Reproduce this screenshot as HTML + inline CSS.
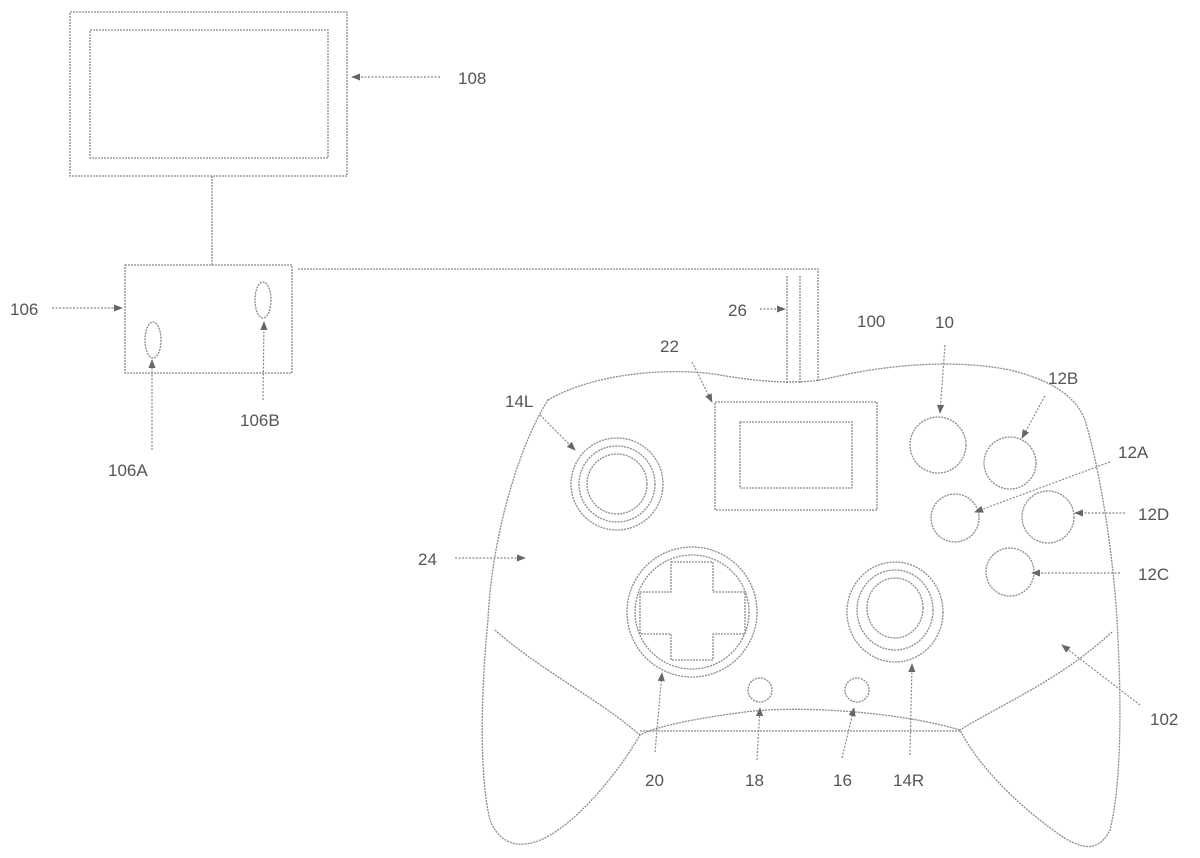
<!DOCTYPE html>
<html><head><meta charset="utf-8"><style>
html,body{margin:0;padding:0;background:#fff}
svg{display:block}
text{font-family:"Liberation Sans",sans-serif;font-size:17px;fill:#555}
.l{fill:none;stroke:#8a8a8a;stroke-width:1.3;stroke-dasharray:2 1}
.a{fill:none;stroke:#8a8a8a;stroke-width:1.2;stroke-dasharray:2 1.5}
</style></head><body>
<svg width="1200" height="858" viewBox="0 0 1200 858" xmlns="http://www.w3.org/2000/svg">
<defs><marker id="m" viewBox="0 0 10 10" refX="9" refY="5" markerWidth="9" markerHeight="9" orient="auto" markerUnits="userSpaceOnUse"><path d="M0,1 L10,5 L0,9 z" fill="#666"/></marker></defs>
<rect class="l" x="70" y="12" width="277" height="164"/>
<rect class="l" x="90" y="30" width="238" height="128"/>
<line class="l" x1="212" y1="176" x2="212" y2="265"/>
<rect class="l" x="125" y="265" width="167" height="108"/>
<ellipse class="l" cx="153" cy="340" rx="8" ry="18"/>
<ellipse class="l" cx="263" cy="300" rx="8" ry="18"/>
<polyline class="l" points="298,269 818,269 818,382"/>
<line class="l" x1="787" y1="276" x2="787" y2="384"/>
<line class="l" x1="800" y1="276" x2="800" y2="383"/>
<path class="l" d="M548,400 C600,370 680,368 720,375 C760,382 800,385 830,378 C880,366 950,358 1010,370 C1050,380 1075,395 1085,420 C1100,470 1115,560 1118,640 C1122,720 1120,790 1110,830 C1100,850 1085,852 1060,835 C1010,800 975,760 960,730 C900,712 800,705 745,712 C700,718 660,725 640,735 C620,770 580,820 545,838 C520,850 500,845 490,820 C480,780 480,700 488,620 C492,530 522,440 548,400 Z"/>
<line class="l" x1="640" y1="731" x2="960" y2="731"/>
<path class="l" d="M495,630 C540,670 600,700 640,735"/>
<path class="l" d="M1112,632 C1060,680 1000,705 960,730"/>
<rect class="l" x="715" y="402" width="162" height="108"/>
<rect class="l" x="740" y="422" width="112" height="66"/>
<circle class="l" cx="617" cy="484" r="46"/>
<circle class="l" cx="617" cy="484" r="38"/>
<circle class="l" cx="617" cy="484" r="30"/>
<circle class="l" cx="692" cy="612" r="65"/>
<circle class="l" cx="692" cy="612" r="57"/>
<path class="l" d="M671,562 H713 V592 H745 V634 H713 V660 H671 V634 H640 V592 H671 Z"/>
<ellipse class="l" cx="895" cy="612" rx="48" ry="50"/>
<ellipse class="l" cx="895" cy="610" rx="38" ry="40"/>
<ellipse class="l" cx="895" cy="608" rx="28" ry="30"/>
<circle class="l" cx="938" cy="445" r="28"/>
<circle class="l" cx="1010" cy="463" r="26"/>
<circle class="l" cx="955" cy="518" r="24"/>
<circle class="l" cx="1048" cy="517" r="26"/>
<circle class="l" cx="1010" cy="572" r="24"/>
<circle class="l" cx="760" cy="690" r="12"/>
<circle class="l" cx="857" cy="690" r="12"/>
<g marker-end="url(#m)">
<line class="a" x1="440" y1="77" x2="352" y2="77"/>
<line class="a" x1="52" y1="308" x2="122" y2="308"/>
<line class="a" x1="152" y1="450" x2="152" y2="360"/>
<line class="a" x1="263" y1="400" x2="264" y2="322"/>
<line class="a" x1="760" y1="309" x2="785" y2="309"/>
<line class="a" x1="692" y1="362" x2="712" y2="402"/>
<line class="a" x1="540" y1="415" x2="575" y2="450"/>
<line class="a" x1="945" y1="345" x2="940" y2="413"/>
<line class="a" x1="1045" y1="396" x2="1022" y2="438"/>
<line class="a" x1="1110" y1="462" x2="975" y2="512"/>
<line class="a" x1="1125" y1="513" x2="1075" y2="513"/>
<line class="a" x1="1120" y1="573" x2="1032" y2="573"/>
<line class="a" x1="1140" y1="705" x2="1062" y2="645"/>
<line class="a" x1="455" y1="558" x2="525" y2="558"/>
<line class="a" x1="655" y1="752" x2="662" y2="673"/>
<line class="a" x1="757" y1="760" x2="760" y2="708"/>
<line class="a" x1="842" y1="758" x2="854" y2="708"/>
<line class="a" x1="910" y1="755" x2="912" y2="664"/>
</g>
<text x="458" y="84">108</text>
<text x="10" y="315">106</text>
<text x="108" y="476">106A</text>
<text x="240" y="426">106B</text>
<text x="728" y="316">26</text>
<text x="857" y="327">100</text>
<text x="660" y="352">22</text>
<text x="505" y="407">14L</text>
<text x="935" y="328">10</text>
<text x="1048" y="384">12B</text>
<text x="1118" y="458">12A</text>
<text x="1138" y="520">12D</text>
<text x="1138" y="580">12C</text>
<text x="1150" y="725">102</text>
<text x="418" y="565">24</text>
<text x="645" y="786">20</text>
<text x="745" y="786">18</text>
<text x="833" y="786">16</text>
<text x="893" y="786">14R</text>
</svg>
</body></html>
